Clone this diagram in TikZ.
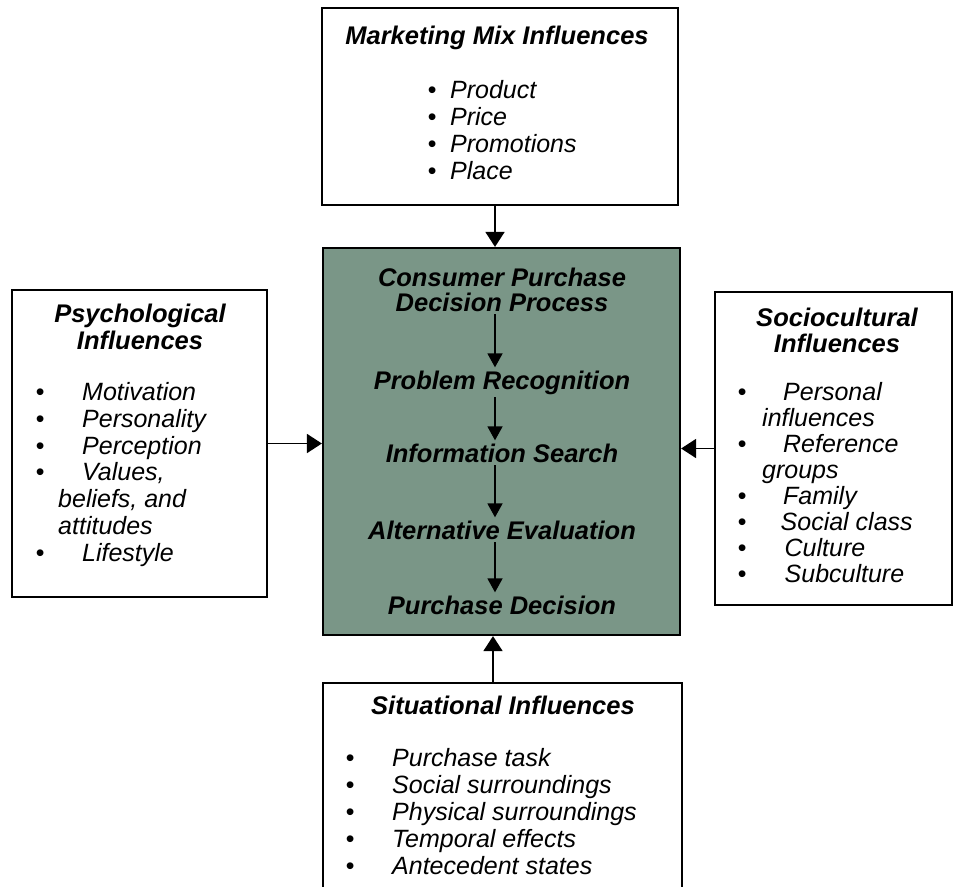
\documentclass[tikz,border=0pt]{standalone}
\usepackage{fontspec}
\setmainfont{Liberation Sans}
\usetikzlibrary{arrows.meta,positioning}
\definecolor{hubgreen}{RGB}{122,150,135}
\newcommand{\bul}[2]{\makebox[#1][l]{\textbullet}#2}
\tikzset{
  box/.style={draw, line width=2.2pt, fill=white, inner sep=0pt},
  centrebox/.style={draw, line width=2.2pt, fill=hubgreen, inner sep=0pt},
  head/.style={font=\fontsize{25.5}{26.5}\selectfont\bfseries\itshape, align=center, inner sep=3pt},
  items/.style={font=\fontsize{25}{26.7}\selectfont\itshape, align=left, inner sep=0pt},
  arr/.style={-{Triangle[length=15pt,width=19pt]}, line width=1.8pt},
  stagearr/.style={-{Triangle[length=14pt,width=15pt]}, line width=1.8pt}
}
\begin{document}
\begin{tikzpicture}[x=1pt, y=-1pt]
\useasboundingbox (0,0) rectangle (955,886);
% boxes
\node[box, minimum width=356pt, minimum height=197pt] (mix) at (500,106.5) {};
\node[centrebox, minimum width=357pt, minimum height=387pt] (cdp) at (501.5,441.5) {};
\node[box, minimum width=255pt, minimum height=307pt] (psych) at (139.5,443.5) {};
\node[box, minimum width=237pt, minimum height=313pt] (socio) at (833.5,448.5) {};
\node[box, minimum width=359pt, minimum height=240pt] (situ) at (502.5,803) {};
% marketing mix (base = last line)
\node[head, anchor=base] (mixhead) at (497,44) {Marketing Mix Influences};
\node[items, anchor=base west] (mixlist) at (427.5,179)
  {\bul{22.5pt}{Product}\\ \bul{22.5pt}{Price}\\ \bul{22.5pt}{Promotions}\\ \bul{22.5pt}{Place}};
% decision process
\node[head, anchor=base, font=\fontsize{25.5}{25}\selectfont\bfseries\itshape] (cdphead) at (502,311) {Consumer Purchase\\Decision Process};
\node[head, anchor=base] (recog)  at (502,389) {Problem Recognition};
\node[head, anchor=base] (search) at (502,462) {Information Search};
\node[head, anchor=base] (evalu)  at (502,539) {Alternative Evaluation};
\node[head, anchor=base] (decide) at (502,614) {Purchase Decision};
% psychological
\node[head, anchor=base, font=\fontsize{25.5}{27}\selectfont\bfseries\itshape] (psychhead) at (140,349) {Psychological\\Influences};
\node[items, anchor=base west] (psychlist) at (35.5,561)
  {\bul{46.5pt}{Motivation}\\ \bul{46.5pt}{Personality}\\ \bul{46.5pt}{Perception}\\ \bul{46.5pt}{Values,}\\
   \hspace*{22.5pt}beliefs, and\\ \hspace*{22.5pt}attitudes\\ \bul{46.5pt}{Lifestyle}};
% sociocultural
\node[head, anchor=base, font=\fontsize{25.5}{26}\selectfont\bfseries\itshape] (sociohead) at (837,352) {Sociocultural\\Influences};
\node[items, anchor=base west, font=\fontsize{25}{25.9}\selectfont\itshape] (sociolist) at (737.5,582)
  {\bul{45.5pt}{Personal}\\ \hspace*{24.5pt}influences\\ \bul{45.5pt}{Reference}\\ \hspace*{24.5pt}groups\\
   \bul{45.5pt}{Family}\\ \bul{43pt}{Social class}\\ \bul{47pt}{Culture}\\ \bul{47pt}{Subculture}};
% situational
\node[head, anchor=base] (situhead) at (503,714) {Situational Influences};
\node[items, anchor=base west, font=\fontsize{25}{27}\selectfont\itshape] (situlist) at (345.5,874)
  {\bul{46.5pt}{Purchase task}\\ \bul{46.5pt}{Social surroundings}\\ \bul{46.5pt}{Physical surroundings}\\
   \bul{46.5pt}{Temporal effects}\\ \bul{46.5pt}{Antecedent states}};
% arrows
\draw[arr] ([xshift=-5pt]mix.south) -- ([xshift=-5pt]mix.south |- cdp.north);
\draw[arr] (psych.east) -- (psych.east -| cdp.west);
\draw[arr] (socio.west) -- (socio.west -| cdp.east);
\draw[arr] ([xshift=-9.5pt]situ.north) -- ([xshift=-9.5pt]situ.north |- cdp.south);
\foreach \a/\b in {cdphead/recog, recog/search, search/evalu, evalu/decide}
  \draw[stagearr] ([xshift=-7pt]\a.south) -- ([xshift=-7pt]\b.north);
\end{tikzpicture}
\end{document}
